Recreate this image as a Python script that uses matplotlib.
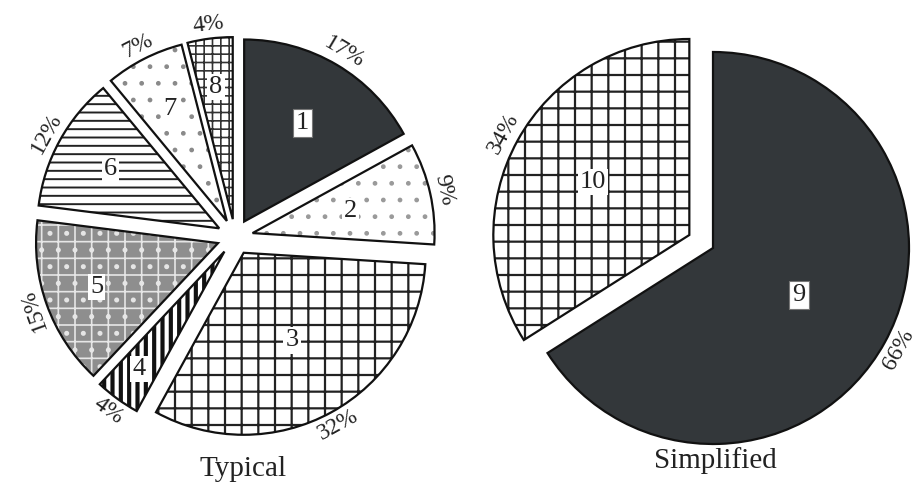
import numpy as np
import matplotlib.pyplot as plt
from matplotlib.patches import Wedge

# data
typical_ids = ['1', '2', '3', '4', '5', '6', '7', '8']
typical_pct = [17, 9, 32, 4, 15, 12, 7, 4]
simple_ids = ['9', '10']
simple_pct = [66, 34]

SERIF = 'Liberation Serif'
DARK = '#33373a'

# look of each slice: face, hatch, hatch colour, hatch width
typ_style = [
    (DARK, None, None, 1),
    ('white', '.', '#9a9a9a', 1),
    ('white', '+', '#222222', 1.6),
    ('white', '||', '#111111', 3.0),
    ('#8e8e8e', '+.', '#e6e6e6', 1.2),
    ('white', '--', '#222222', 1.4),
    ('white', '.', '#8a8a8a', 1),
    ('white', '++', '#333333', 1.2),
]
simp_style = [
    (DARK, None, None, 1),
    ('white', '+', '#222222', 1.6),
]
typ_label_r = [0.63, 0.55, 0.55, 0.8, 0.71, 0.68, 0.69, 0.73]
simp_label_r = [0.5, 0.56]

fig = plt.figure(figsize=(9.24, 4.86), dpi=100)
ax = fig.add_axes([0, 0, 1, 1])


def pct_rotation(angle):
    rot = (angle - 90 + 180) % 360 - 180
    if rot > 112:
        rot -= 180
    elif rot < -112:
        rot += 180
    return rot


def draw_pie(values, ids, styles, label_r, center, radius, explode):
    wedges, _, autotexts = ax.pie(
        values, explode=explode, startangle=90, counterclock=False,
        center=center, radius=radius,
        autopct=lambda p: f'{p:.0f}%', pctdistance=1.08,
        wedgeprops=dict(linewidth=0),
        textprops=dict(fontsize=17, family=SERIF, color='#222222'))
    for w, at, st, lid, lr in zip(wedges, autotexts, styles, ids, label_r):
        face, hatch, hcol, hlw = st
        w.set_facecolor(face)
        w.set_edgecolor('none')
        if hatch:
            hw = Wedge(w.center, w.r, w.theta1, w.theta2, facecolor='none',
                       edgecolor=hcol, hatch=hatch, linewidth=0, zorder=2)
            if hasattr(hw, 'set_hatch_linewidth'):
                hw.set_hatch_linewidth(hlw)
            ax.add_patch(hw)
        ax.add_patch(Wedge(w.center, w.r, w.theta1, w.theta2, fill=False,
                           edgecolor='#111111', linewidth=1.6, zorder=3))
        mid = np.deg2rad((w.theta1 + w.theta2) / 2)
        at.set_rotation(pct_rotation(np.rad2deg(mid)))
        at.set_rotation_mode('anchor')
        at.set_ha('center')
        at.set_va('center')
        at.set_zorder(4)
        x = w.center[0] + lr * w.r * np.cos(mid)
        y = w.center[1] + lr * w.r * np.sin(mid)
        if face == DARK:
            box = dict(boxstyle='square,pad=0.12', facecolor='white',
                       edgecolor='#777777', linewidth=0.8)
        else:
            box = dict(boxstyle='square,pad=0.08', facecolor='white',
                       edgecolor='none')
        ax.text(x, y, lid, ha='center', va='center', fontsize=19,
                family=SERIF, color='#222222', bbox=box, zorder=5)


# pie() takes explode in data units here (pixels of this axes)
draw_pie(typical_pct, typical_ids, typ_style, typ_label_r,
         (235, 249), 182, [18] * len(typical_pct))
draw_pie(simple_pct, simple_ids, simp_style, simp_label_r,
         (713, 238), 196, [0, 27])

ax.text(243, 17, 'Typical', ha='center', va='center', fontsize=21,
        family=SERIF, color='#222222')
ax.text(715, 25, 'Simplified', ha='center', va='center', fontsize=21,
        family=SERIF, color='#222222')

ax.set_xlim(0, 924)
ax.set_ylim(0, 486)
ax.set_aspect('equal')
ax.axis('off')

fig.savefig('out.png', dpi=100, facecolor='white')
